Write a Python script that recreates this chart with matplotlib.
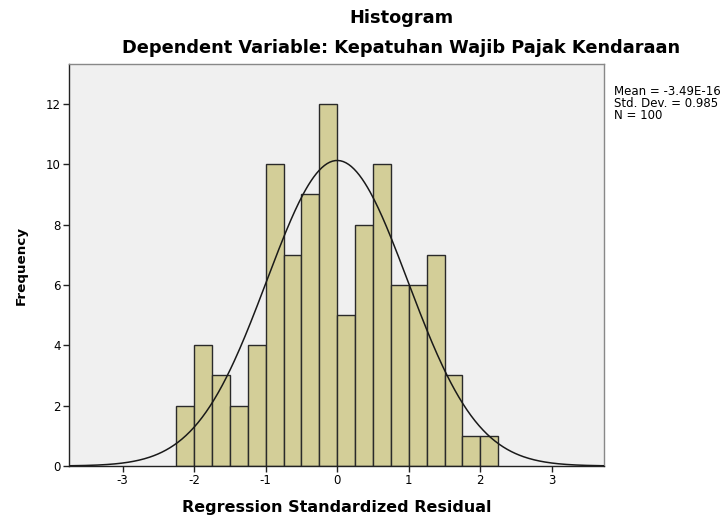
import numpy as np
import matplotlib
matplotlib.use("Agg")
import matplotlib.pyplot as plt

plt.rcParams['font.family'] = ['DejaVu Sans']

# Data
counts = [2, 4, 3, 2, 4, 10, 7, 9, 12, 5, 8, 10, 6, 6, 7, 3, 1, 1]
bin_start = -2.25
bin_width = 0.25
mean = -3.49e-16
std = 0.985
n = 100
xticks = [-3, -2, -1, 0, 1, 2, 3]
yticks = [0, 2, 4, 6, 8, 10, 12]

bin_left = bin_start + bin_width * np.arange(len(counts))

fig = plt.figure(figsize=(7.28, 5.21), dpi=100)
ax = fig.add_axes([0.0948, 0.1056, 0.7349, 0.7714])
ax.set_facecolor('#F0F0F0')

ax.bar(bin_left, counts, width=bin_width, align='edge', color='#D3CE98',
       edgecolor='#2a2a2a', linewidth=1.0, zorder=2)

xs = np.linspace(-3.75, 3.75, 400)
pdf = n * bin_width * np.exp(-0.5 * ((xs - mean) / std) ** 2) / (std * np.sqrt(2 * np.pi))
ax.plot(xs, pdf, color='#1a1a1a', linewidth=1.1, zorder=3)

ax.set_xlim(-3.75, 3.73)
ax.set_ylim(0, 13.32)
ax.set_xticks(xticks)
ax.set_yticks(yticks)
ax.set_xticklabels([str(t) for t in xticks], fontsize=8.5)
ax.set_yticklabels([str(t) for t in yticks], fontsize=8.5)
ax.tick_params(direction='out', length=4.5, width=1, top=False, right=False, color='#222222', pad=1.5)

for side in ['left', 'bottom']:
    ax.spines[side].set_color('#222222')
    ax.spines[side].set_linewidth(1.0)
for side in ['top', 'right']:
    ax.spines[side].set_color('#888888')
    ax.spines[side].set_linewidth(1.0)

ax.set_xlabel('Regression Standardized Residual', fontsize=11.5, fontweight='bold', labelpad=9)
ax.set_ylabel('Frequency', fontsize=9.7, fontweight='bold', labelpad=13)

fig.text(0.551, 0.9655, 'Histogram', ha='center', va='center', fontsize=12.8, fontweight='bold')
fig.text(0.5515, 0.907, 'Dependent Variable: Kepatuhan Wajib Pajak Kendaraan', ha='center', va='center',
         fontsize=12.75, fontweight='bold')

fig.text(0.843, 0.802, 'Mean = -3.49E-16\nStd. Dev. = 0.985\nN = 100', ha='left', va='center',
         fontsize=8.5, linespacing=0.9)

fig.savefig('out.png', dpi=100, facecolor='white')
